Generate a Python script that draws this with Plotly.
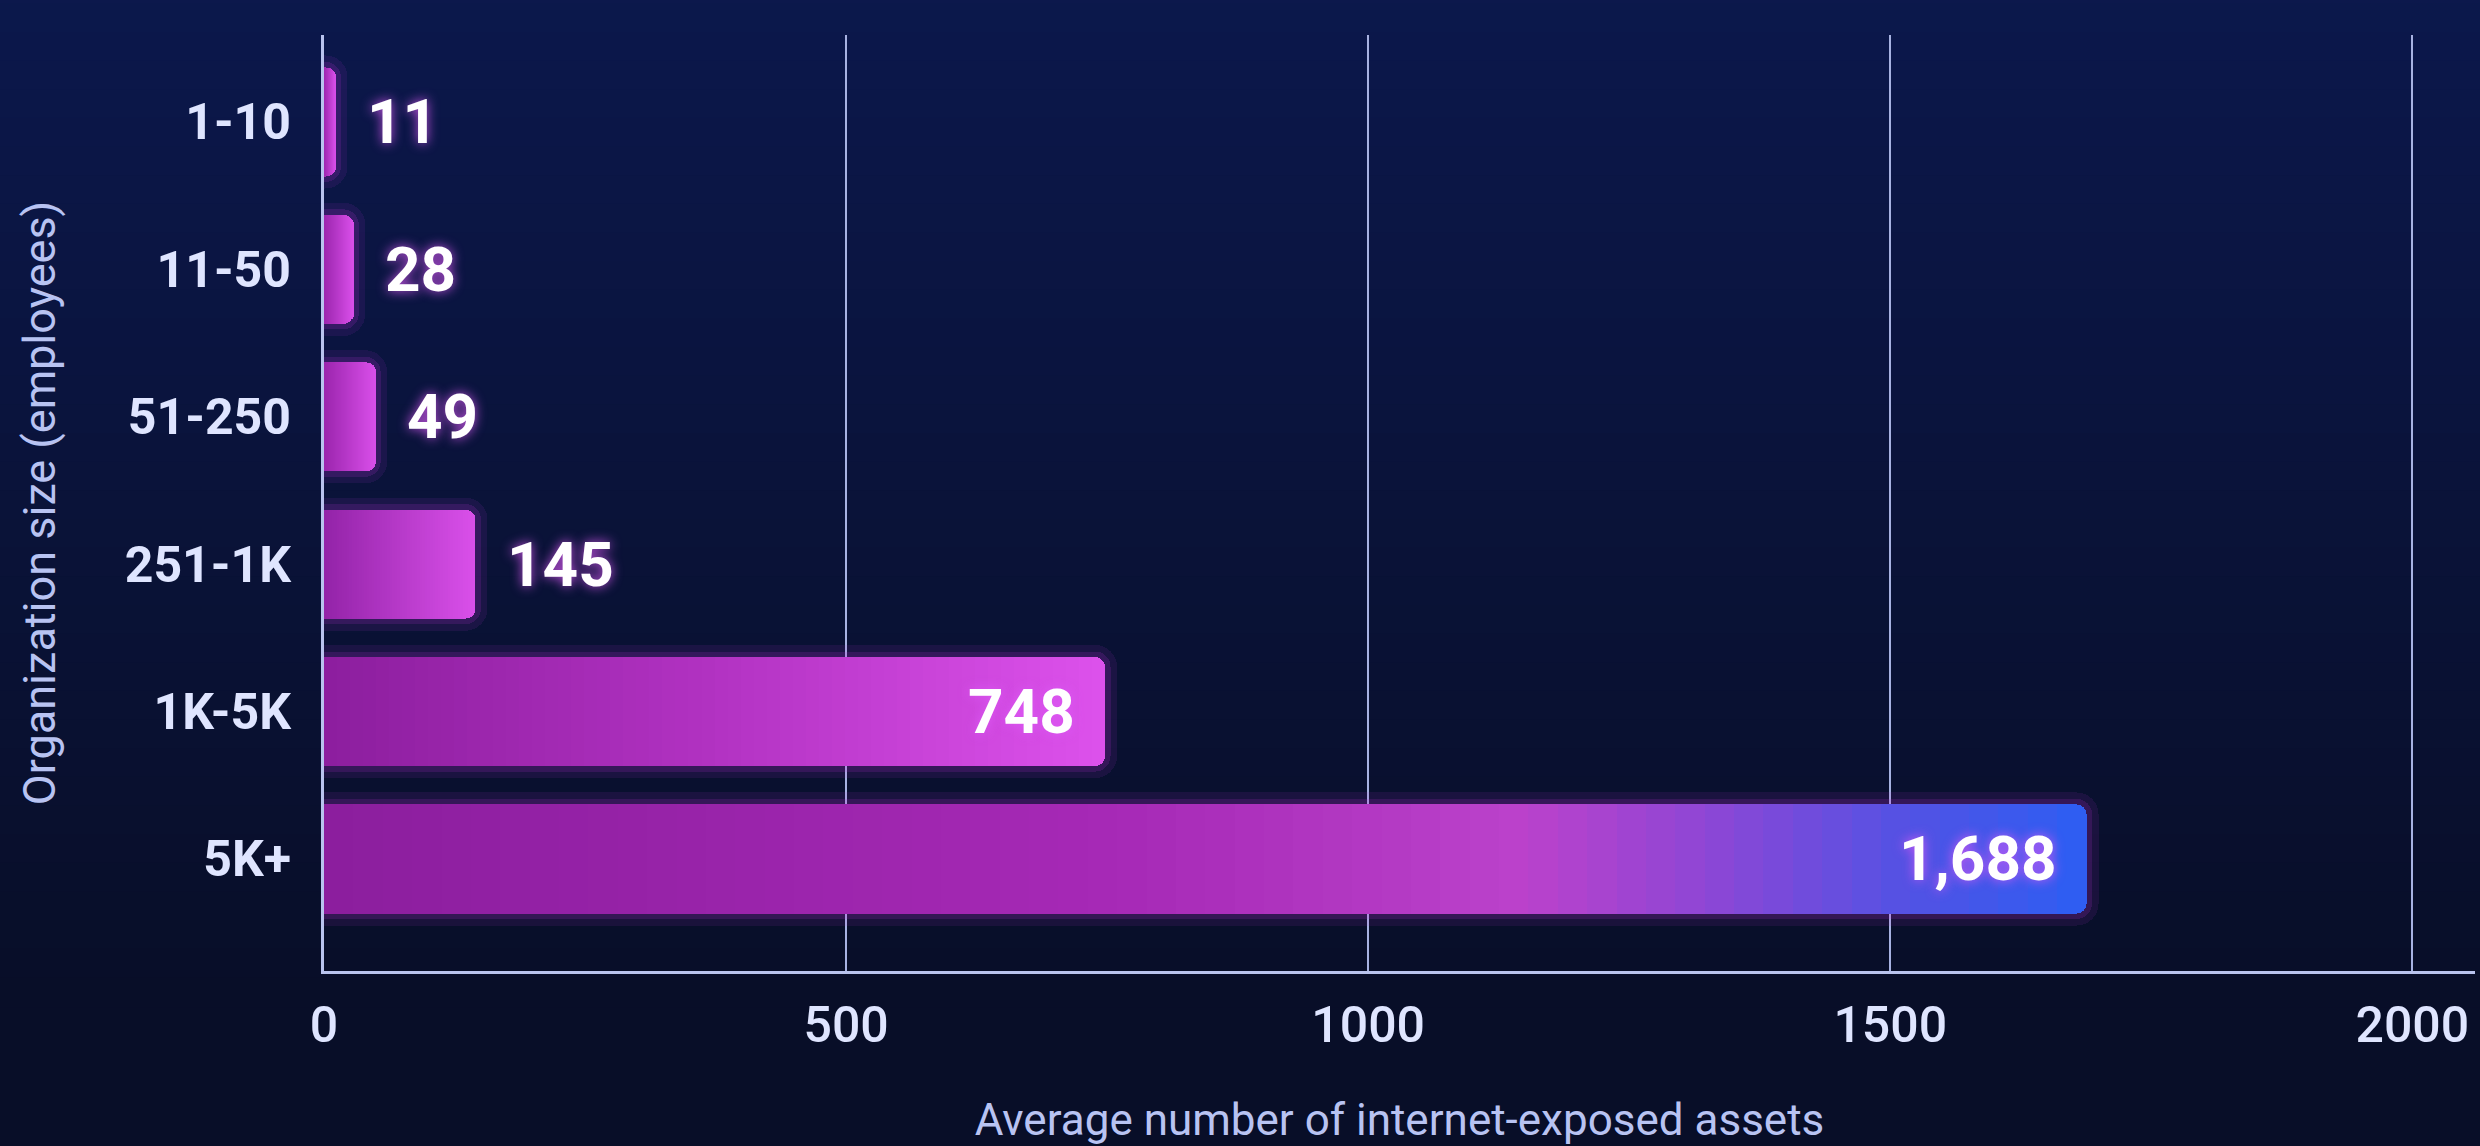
import plotly.graph_objects as go

# ---------------- data ----------------
categories = ["1-10", "11-50", "51-250", "251-1K", "1K-5K", "5K+"]
values = [11, 28, 49, 145, 748, 1688]
value_labels = ["11", "28", "49", "145", "748", "1,688"]
x_tick_values = [0, 500, 1000, 1500, 2000]
x_tick_labels = ["0", "500", "1000", "1500", "2000"]
x_title = "Average number of internet-exposed assets"
y_title = "Organization size (employees)"

# gradient stops (position along bar, colour) for each category
pink_stops = [(0.0, "#9a24ad"), (1.0, "#d84ee8")]
gradient_stops = [
    pink_stops,
    pink_stops,
    pink_stops,
    [(0.0, "#9323a8"), (1.0, "#da50ea")],
    [(0.0, "#8c1e9e"), (0.5, "#b232c2"), (1.0, "#dd52ec")],
    [(0.0, "#8c1e9e"), (0.45, "#a629b6"), (0.68, "#bb42cb"),
     (0.78, "#9046d4"), (0.9, "#5252e4"), (1.0, "#2c5ef3")],
]

N_SEG = 60


def hex_to_rgb(h):
    h = h.lstrip("#")
    return tuple(int(h[i:i + 2], 16) for i in (0, 2, 4))


def interp(stops, t):
    for (p0, c0), (p1, c1) in zip(stops[:-1], stops[1:]):
        if p0 <= t <= p1:
            f = (t - p0) / (p1 - p0) if p1 > p0 else 0
            a, b = hex_to_rgb(c0), hex_to_rgb(c1)
            return "rgb(%d,%d,%d)" % tuple(round(a[i] + (b[i] - a[i]) * f) for i in range(3))
    return stops[-1][1]


fig = go.Figure()

# background gradient bands (decoration)
W, H = 2480, 1146
ML, MR, MT, MB = 324, 5, 35, 175
pw, ph = W - ML - MR, H - MT - MB
top_rgb, bot_rgb = (12, 25, 80), (8, 14, 40)
NB = 40
for i in range(NB):
    f = i / (NB - 1)
    col = "rgb(%d,%d,%d)" % tuple(round(top_rgb[k] + (bot_rgb[k] - top_rgb[k]) * f) for k in range(3))
    y_top = (H - MT - i * H / NB) / ph
    y_bot = (H - MT - (i + 1) * H / NB) / ph
    fig.add_shape(type="rect", xref="paper", yref="paper",
                  x0=-ML / pw, x1=1 + MR / pw, y0=y_bot - 0.002, y1=y_top,
                  fillcolor=col, line_width=0, layer="below")

# soft glow behind the bars (two halo layers on lower overlaid axes)
fig.add_trace(go.Bar(
    x=values, y=categories, orientation="h", width=0.74,
    marker=dict(color="rgba(190,50,220,0.10)",
                line=dict(color="rgba(190,50,220,0.10)", width=24)),
    hoverinfo="skip", showlegend=False, yaxis="y",
))
fig.add_trace(go.Bar(
    x=values, y=categories, orientation="h", width=0.74,
    marker=dict(color="rgba(190,50,220,0.15)",
                line=dict(color="rgba(190,50,220,0.16)", width=11)),
    hoverinfo="skip", showlegend=False, yaxis="y2",
))

# gradient bars: each bar is split into equal stacked segments
for k in range(N_SEG):
    t = (k + 0.5) / N_SEG
    fig.add_trace(go.Bar(
        x=[v / N_SEG for v in values],
        y=categories,
        orientation="h",
        width=0.74,
        marker=dict(color=[interp(s, t) for s in gradient_stops], line_width=0),
        hoverinfo="skip",
        showlegend=False,
        yaxis="y3",
    ))

# value labels
for cat, v, lab in zip(categories, values, value_labels):
    inside = v > 500
    fig.add_annotation(
        x=v, y=cat, text=lab, showarrow=False, yref="y3",
        xanchor="right" if inside else "left",
        xshift=-28 if inside else 30,
        font=dict(family="Roboto", size=62, color="#ffffff", weight=700,
                  shadow="0px 0px 12px rgba(220,90,245,0.9)"),
    )

axis_col = "#b9c3ee"
y_range = [5.76, -0.59]
overlay_axis = dict(
    categoryorder="array", categoryarray=categories,
    range=y_range, overlaying="y", automargin=False,
    showgrid=False, zeroline=False, showline=False, showticklabels=False,
)
fig.update_layout(
    width=W, height=H,
    margin=dict(l=ML, r=MR, t=MT, b=MB, pad=0),
    barmode="stack",
    barcornerradius=10,
    paper_bgcolor="rgb(8,14,40)",
    plot_bgcolor="rgba(0,0,0,0)",
    showlegend=False,
    xaxis=dict(
        range=[0, 2060], automargin=False,
        tickvals=x_tick_values, ticktext=x_tick_labels,
        showgrid=True, gridcolor="#a7b2e2", gridwidth=2,
        zeroline=False,
        showline=True, linecolor=axis_col, linewidth=3,
        ticks="", ticklabelstandoff=8,
        tickfont=dict(family="Roboto", size=50, color="#dfe5ff", weight=500),
        title=dict(text=x_title, standoff=68,
                   font=dict(family="Roboto", size=44, color="#b8c3f2")),
    ),
    yaxis=dict(
        categoryorder="array", categoryarray=categories,
        range=y_range, automargin=False,
        showgrid=False, zeroline=False,
        showline=True, linecolor=axis_col, linewidth=3,
        ticks="", ticklabelstandoff=20,
        tickfont=dict(family="Roboto", size=50, color="#dfe5ff", weight=700),
        title=dict(text=y_title, standoff=56,
                   font=dict(family="Roboto", size=45, color="#b8c3f2")),
    ),
    yaxis2=overlay_axis,
    yaxis3=overlay_axis,
)

fig.write_html("out.html")
